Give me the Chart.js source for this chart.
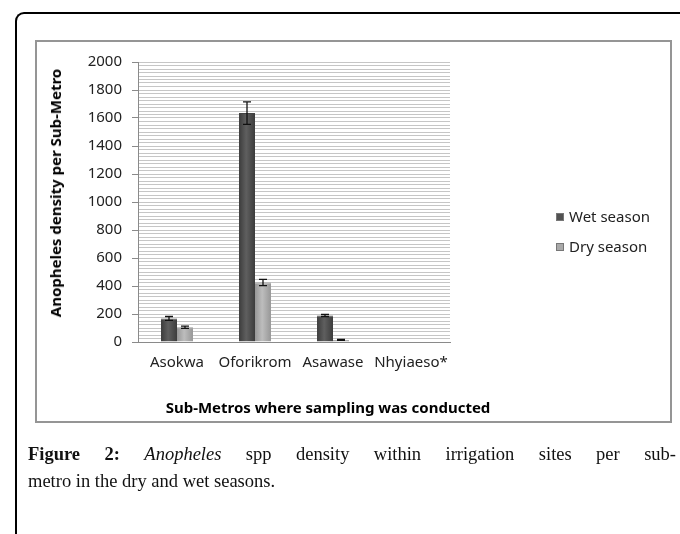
<!DOCTYPE html>
<html>
<head>
<meta charset="utf-8">
<script src="https://cdn.jsdelivr.net/npm/chart.js@4.4.0/dist/chart.umd.min.js"></script>
<style>
  html, body { margin: 0; padding: 0; background: #fff; width: 680px; height: 534px; overflow: hidden; }
  #frame { position: absolute; left: 15px; top: 12px; width: 700px; height: 560px;
           border-left: 2px solid #000; border-top: 2px solid #000; border-top-left-radius: 9px; }
  #box { position: absolute; left: 35px; top: 40px; width: 633px; height: 379px; border: 2px solid #959595; }
  #chart { position: absolute; left: 0; top: 0; }
  .title { position: absolute; font: bold 15px "Noto Sans", sans-serif; color: #000; white-space: nowrap; }
  #ytitle { left: 55px; top: 193px; transform: translate(-50%, -50%) rotate(-90deg); }
  #xtitle { left: 328px; top: 407px; transform: translate(-50%, -50%); }
  #legend { position: absolute; left: 556px; top: 205px; font: 15px "Noto Sans", sans-serif; color: #222; }
  #legend div { height: 30px; line-height: 22px; white-space: nowrap; }
  #legend span { display: inline-block; width: 8px; height: 8px; margin-right: 5px; vertical-align: 1px; }
  #caption { position: absolute; left: 28px; top: 441px; width: 648px;
             font: 18.5px "Liberation Serif", serif; color: #111; line-height: 27px; }
  #caption .l1 { text-align: justify; text-align-last: justify; }
</style>
</head>
<body>
<div id="frame"></div>
<div id="box"></div>
<canvas id="chart" width="680" height="534"></canvas>
<div class="title" id="ytitle">Anopheles density per Sub-Metro</div>
<div class="title" id="xtitle">Sub-Metros where sampling was conducted</div>
<div id="legend"></div>
<div id="caption">
  <div class="l1"><b>Figure 2:</b> <i>Anopheles</i> spp density within irrigation sites per sub-</div>
  <div>metro in the dry and wet seasons.</div>
</div>
<script>
// data
const categories = ['Asokwa', 'Oforikrom', 'Asawase', 'Nhyiaeso*'];
const wetSeason = [168, 1635, 190, 0];
const drySeason = [105, 425, 15, 0];
const wetError = [14, 80, 8, 0];
const dryError = [8, 22, 3, 0];
const seriesNames = ['Wet season', 'Dry season'];
const seriesColors = ['#525252', '#a9a9a9'];
const seriesShade = [['#3c3c3c', '#5f5f5f'], ['#979797', '#bdbdbd']];
const yMax = 2000;
const yMajorStep = 200;
const yMinorStep = 25;

// shaded bar fill, darker at the bar edges
function barFill(ctx) {
    const i = ctx.datasetIndex;
    const el = ctx.chart.getDatasetMeta(i).data[ctx.dataIndex];
    if (!el || !el.width) return seriesColors[i];
    const x0 = el.x - el.width / 2, x1 = el.x + el.width / 2;
    const g = ctx.chart.ctx.createLinearGradient(x0, 0, x1, 0);
    g.addColorStop(0, seriesShade[i][0]);
    g.addColorStop(0.45, seriesShade[i][1]);
    g.addColorStop(1, seriesShade[i][0]);
    return g;
}

// error bars drawn from the y scale
const errorBars = {
    id: 'errorBars',
    afterDatasetsDraw(chart) {
        const ctx = chart.ctx;
        const y = chart.scales.y;
        chart.data.datasets.forEach((ds, i) => {
            chart.getDatasetMeta(i).data.forEach((bar, j) => {
                const e = ds.errors[j];
                if (!e) return;
                const top = y.getPixelForValue(ds.data[j] + e);
                const bot = y.getPixelForValue(Math.max(ds.data[j] - e, 0));
                ctx.save();
                ctx.strokeStyle = '#111';
                ctx.lineWidth = 1.3;
                ctx.beginPath();
                ctx.moveTo(bar.x, top); ctx.lineTo(bar.x, bot);
                ctx.moveTo(bar.x - 4, top); ctx.lineTo(bar.x + 4, top);
                ctx.moveTo(bar.x - 4, bot); ctx.lineTo(bar.x + 4, bot);
                ctx.stroke();
                ctx.restore();
            });
        });
    }
};

// legend as plain html
document.getElementById('legend').innerHTML = seriesNames.map((n, i) =>
    '<div><span style="background:' + seriesColors[i] + ';border:1px solid #777;box-sizing:border-box"></span>' + n + '</div>'
).join('');

Chart.defaults.font.family = "'Noto Sans', sans-serif";
Chart.defaults.color = '#333';

const chart = new Chart(document.getElementById('chart').getContext('2d'), {
    type: 'bar',
    data: {
        labels: categories,
        datasets: [
            { label: seriesNames[0], data: wetSeason, errors: wetError, backgroundColor: barFill,
              borderColor: '#444', borderWidth: { left: 0, right: 0, top: 1, bottom: 0 } },
            { label: seriesNames[1], data: drySeason, errors: dryError, backgroundColor: barFill,
              borderColor: '#999', borderWidth: { left: 0, right: 0, top: 1, bottom: 0 } }
        ]
    },
    options: {
        responsive: false,
        animation: false,
        categoryPercentage: 0.41,
        barPercentage: 1,
        layout: { padding: { left: 43, top: 62, right: 230, bottom: 114 } },
        plugins: { legend: { display: false }, tooltip: { enabled: false } },
        scales: {
            x: {
                grid: { display: false, drawTicks: false },
                border: { display: true, color: '#8a8a8a', width: 1 },
                ticks: { font: { size: 15 }, padding: 12, color: '#222', maxRotation: 0, minRotation: 0, autoSkip: false },
                afterFit(scale) { scale.height = 78; }
            },
            y: {
                min: 0,
                max: yMax,
                grid: {
                    color: '#c6c6c6',
                    tickLength: 6,
                    tickColor: ctx => ctx.tick && ctx.tick.value % yMajorStep === 0 ? '#8a8a8a' : 'rgba(0,0,0,0)'
                },
                border: { display: true, color: '#8a8a8a', width: 1 },
                ticks: {
                    stepSize: yMinorStep,
                    maxTicksLimit: 200,
                    autoSkip: false,
                    padding: 10,
                    font: { size: 15 },
                    color: '#222',
                    callback: v => v % yMajorStep === 0 ? v : ''
                },
                afterFit(scale) { scale.width = 95; }
            }
        }
    },
    plugins: [errorBars]
});
// second pass so the bar gradients know where the bars are
chart.update();
</script>
</body>
</html>
